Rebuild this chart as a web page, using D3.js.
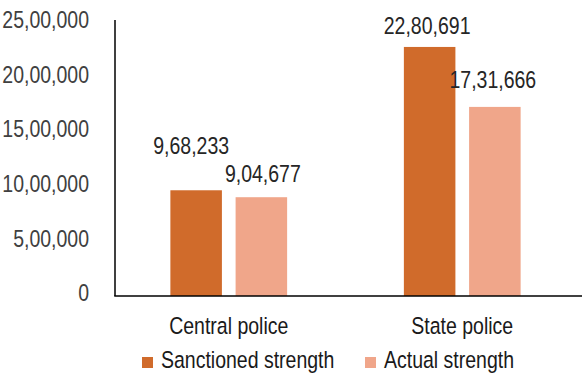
<!DOCTYPE html>
<html><head><meta charset="utf-8">
<script src="https://cdn.jsdelivr.net/npm/d3@7"></script>
<style>
html,body{margin:0;padding:0;background:#fff;}
text{font-family:"Liberation Sans",Arial,sans-serif;}
</style></head>
<body><svg id="c" width="582" height="378"></svg>
<script>
const categories = ["Central police", "State police"];
const seriesNames = ["Sanctioned strength", "Actual strength"];
const sanctioned = [968233, 2280691];
const actual = [904677, 1731666];
const yTicks = [0, 500000, 1000000, 1500000, 2000000, 2500000];
const yTickLabels = ["0", "5,00,000", "10,00,000", "15,00,000", "20,00,000", "25,00,000"];
const valueLabels = [["9,68,233", "22,80,691"], ["9,04,677", "17,31,666"]];
const colors = ["#D06B2B", "#F0A68A"];
// label layout nudges (pixels above bar top, horizontal shift) per series/category
const labelLift = [[36, 13], [15, 19]];
const labelShift = [[-5, -2.5], [1.5, -2]];

const FS = 23.5;   // font size (vertical)
const SX = 0.83;   // horizontal condensing to mimic a narrow face
const svg = d3.select("#c");

function condense(sel) {
  sel.each(function () {
    const t = d3.select(this);
    const x = +t.attr("x") || 0;
    t.attr("transform", `translate(${x},0) scale(${SX},1) translate(${-x},0)`);
  });
}

const y = d3.scaleLinear().domain([0, 2500000]).range([296, 23]);
const x0 = d3.scaleBand().domain(categories).range([112, 579]).paddingInner(0.5).paddingOuter(0.25);
const x1 = d3.scaleBand().domain(seriesNames).range([0, x0.bandwidth()]).paddingInner(0.21);
const series = [sanctioned, actual];

// y tick labels
const yAxis = d3.axisLeft(y).tickValues(yTicks).tickSize(0).tickPadding(26)
  .tickFormat((d, i) => yTickLabels[i]);
const ga = svg.append("g").attr("transform", "translate(115,0)").call(yAxis);
ga.select(".domain").remove();
ga.selectAll("text").attr("font-size", FS).attr("fill", "#404040").attr("dy", "0.2em")
  .attr("font-family", "'Liberation Sans',Arial,sans-serif").call(condense);

// bars
series.forEach((vals, s) => {
  svg.append("g").selectAll("rect").data(vals).join("rect")
    .attr("x", (d, i) => x0(categories[i]) + x1(seriesNames[s]))
    .attr("y", d => y(d))
    .attr("width", x1.bandwidth())
    .attr("height", d => y(0) - y(d))
    .attr("fill", colors[s]);
  svg.append("g").selectAll("text").data(vals).join("text")
    .attr("x", (d, i) => x0(categories[i]) + x1(seriesNames[s]) + x1.bandwidth() / 2 + labelShift[s][i])
    .attr("y", (d, i) => y(d) - labelLift[s][i])
    .attr("text-anchor", "middle")
    .attr("font-size", FS).attr("fill", "#262626")
    .text((d, i) => valueLabels[s][i])
    .call(condense);
});

// axes lines
svg.append("line").attr("x1", 115).attr("x2", 115).attr("y1", 20).attr("y2", y(0)).attr("stroke", "#000").attr("stroke-width", 1.5);
svg.append("line").attr("x1", 114.25).attr("x2", 582).attr("y1", y(0)).attr("y2", y(0)).attr("stroke", "#000").attr("stroke-width", 1.5);

// category labels
svg.append("g").selectAll("text").data(categories).join("text")
  .attr("x", d => x0(d) + x0.bandwidth() / 2)
  .attr("y", 334)
  .attr("text-anchor", "middle")
  .attr("font-size", FS).attr("fill", "#1a1a1a")
  .text(d => d)
  .call(condense);

// legend
const legX = [142, 365];
const lg = svg.append("g").selectAll("g").data(seriesNames).join("g")
  .attr("transform", (d, i) => `translate(${legX[i]},357)`);
lg.append("rect").attr("width", 11).attr("height", 11).attr("fill", (d, i) => colors[i]);
lg.append("text").attr("x", 19).attr("y", 11).attr("font-size", FS).attr("fill", "#1a1a1a").text(d => d)
  .call(condense);
</script></body></html>
